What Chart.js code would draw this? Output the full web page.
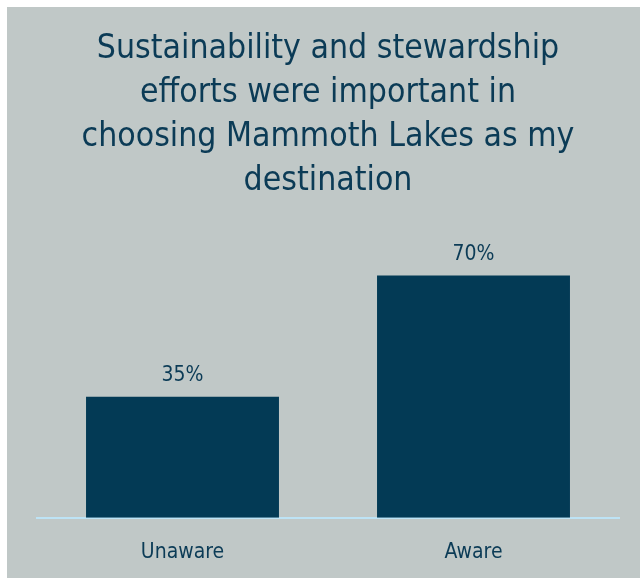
<!DOCTYPE html>
<html>
<head>
<meta charset="utf-8">
<script src="https://cdn.jsdelivr.net/npm/chart.js@4/dist/chart.umd.min.js"></script>
<style>
  html, body { margin: 0; padding: 0; background: #ffffff; }
  #wrap { position: absolute; left: 7px; top: 7px; width: 633px; height: 571px; background: #c0c8c7; }
</style>
</head>
<body>
<div id="wrap"><canvas id="chart" width="633" height="571"></canvas></div>
<script>
// data
var categories = ['Unaware', 'Aware'];
var values = [35, 70];
var titleLines = ['Sustainability and stewardship', 'efforts were important in', 'choosing Mammoth Lakes as my', 'destination'];

var FONT = "'Liberation Sans Narrow', 'Arial Narrow', 'DejaVu Sans Condensed', sans-serif";
var INK = '#0b3b56';

// value labels above bars
var valueLabels = {
  id: 'valueLabels',
  afterDatasetsDraw: function (chart) {
    var ctx = chart.ctx;
    var meta = chart.getDatasetMeta(0);
    ctx.save();
    ctx.fillStyle = INK;
    ctx.font = '21px ' + FONT;
    ctx.textAlign = 'center';
    ctx.textBaseline = 'middle';
    meta.data.forEach(function (bar, i) {
      ctx.fillText(values[i] + '%', bar.x, bar.y - 21);
    });
    ctx.restore();
  }
};

new Chart(document.getElementById('chart'), {
  type: 'bar',
  data: {
    labels: categories,
    datasets: [{
      data: values,
      backgroundColor: '#033a55',
      borderWidth: 0,
      categoryPercentage: 1,
      barPercentage: 0.663
    }]
  },
  options: {
    responsive: false,
    animation: false,
    layout: { padding: { left: 30, right: 21, top: 20, bottom: -9 } },
    plugins: {
      legend: { display: false },
      tooltip: { enabled: false },
      title: {
        display: true,
        text: titleLines,
        color: INK,
        font: { family: FONT, size: 33.5, weight: 'normal', lineHeight: 1.313 },
        padding: { top: 0, bottom: 38 }
      }
    },
    scales: {
      x: {
        grid: { display: false, drawTicks: false },
        border: { display: true, color: '#bde3f5', width: 2 },
        ticks: { color: INK, font: { family: FONT, size: 21 }, padding: 22 }
      },
      y: { display: false, min: 0, max: 80 }
    }
  },
  plugins: [valueLabels]
});
</script>
</body>
</html>
